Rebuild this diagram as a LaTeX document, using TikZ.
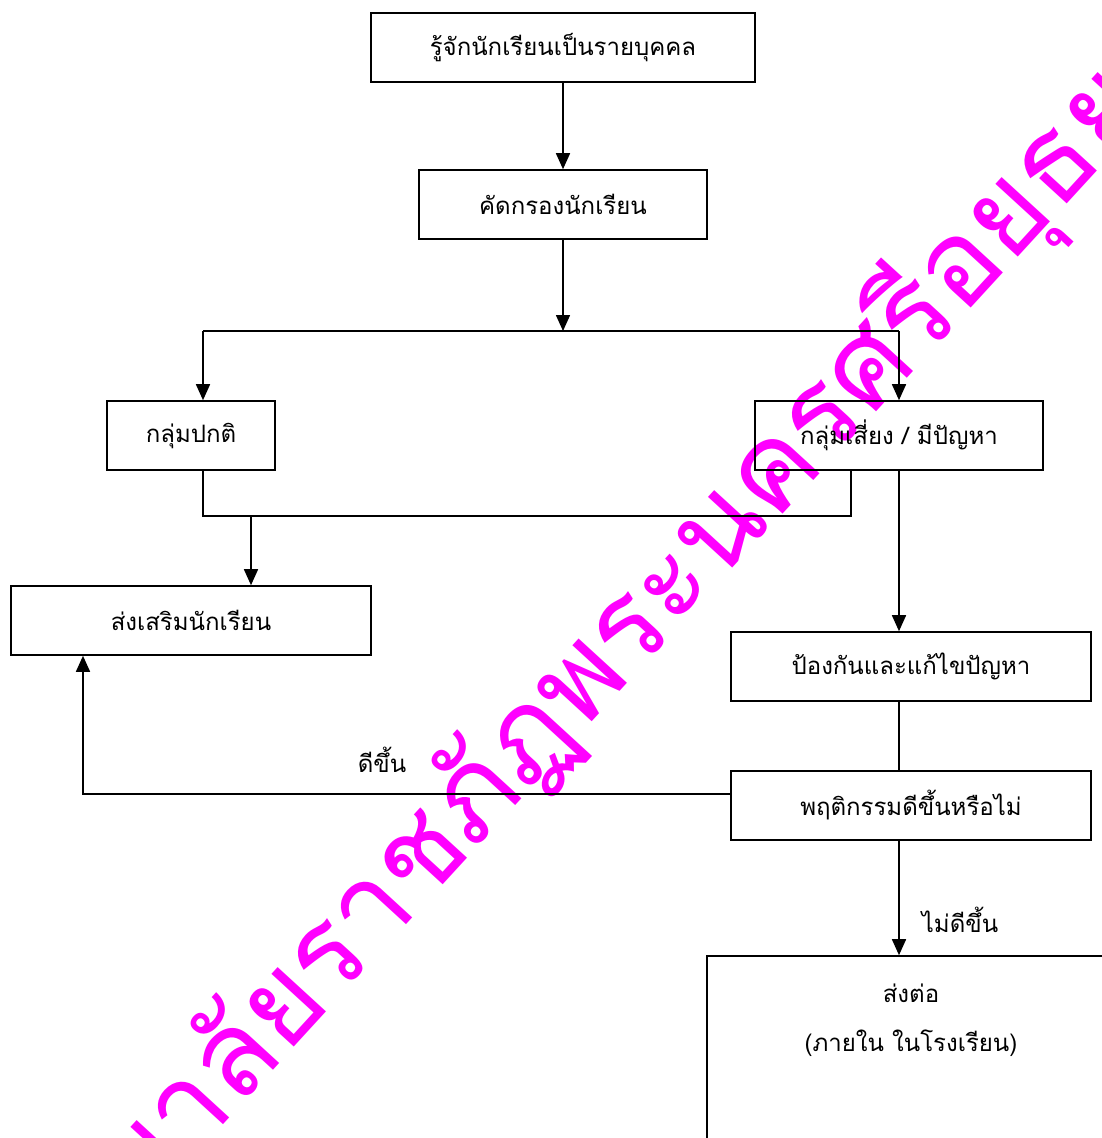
\documentclass[tikz,border=0pt]{standalone}
\usepackage{fontspec}
\newfontfamily\thaifont[Script=Thai]{Loma}
\usetikzlibrary{arrows.meta}
\definecolor{wm}{RGB}{255,0,255}
\tikzset{
  box/.style={draw, line width=1.6pt, inner sep=0pt, align=center,
    font=\thaifont\fontsize{24}{28}\selectfont},
  link/.style={line width=1.6pt},
  arr/.style={link, -{Triangle[length=16pt,width=14pt]}},
  lbl/.style={inner sep=0pt, font=\thaifont\fontsize{24}{28}\selectfont},
  wmark/.style={rotate=47.5, anchor=base, text=wm, inner sep=0pt,
    font=\thaifont\fontsize{118}{118}\selectfont}
}
\begin{document}
\begin{tikzpicture}[x=1pt,y=-1pt]
\useasboundingbox (0,0) rectangle (1102,1138);
\node[wmark] (wmk) at (548,770) {มหาวิทยาลัยราชภัฏพระนครศรีอยุธยา};

\node[box, minimum width=384pt, minimum height=69pt] (b1) at (563,47.5) {รู้จักนักเรียนเป็นรายบุคคล};
\node[box, minimum width=288pt, minimum height=69pt] (b2) at (563,204.5) {คัดกรองนักเรียน};
\node[box, minimum width=168pt, minimum height=69pt] (b3) at (191,435.5) {กลุ่มปกติ};
\node[box, minimum width=288pt, minimum height=69pt] (b4) at (899,435.5) {กลุ่มเสี่ยง / มีปัญหา};
\node[box, minimum width=360pt, minimum height=69pt] (b5) at (191,620.5) {ส่งเสริมนักเรียน};
\node[box, minimum width=360pt, minimum height=69pt] (b6) at (911,666.5) {ป้องกันและแก้ไขปัญหา};
\node[box, minimum width=360pt, minimum height=69pt] (b7) at (911,805.5) {พฤติกรรมดีขึ้นหรือไม่};
\node[box, minimum width=408pt, minimum height=250pt] (b8) at (911,1081) {};
\node[lbl] (t8a) at (911,993) {ส่งต่อ};
\node[lbl] (t8b) at (911,1043) {(ภายใน ในโรงเรียน)};

\coordinate (j1) at (563,331);
\coordinate (jL) at (203,331);
\coordinate (jR) at (899,331);
\coordinate (m1) at (203,516);
\coordinate (m2) at (851,516);
\coordinate (m3) at (251,516);
\coordinate (c1) at (83,794);

\draw[arr] (b1) -- (b2);
\draw[arr] (b2) -- (j1);
\draw[link] (jL) -- (jR);
\draw[arr] (jL) -- (jL |- b3.north);
\draw[arr] (jR) -- (jR |- b4.north);
\draw[link] (m1 |- b3.south) -- (m1) -- (m2) -- (m2 |- b4.south);
\draw[arr] (m3) -- (m3 |- b5.north);
\draw[arr] (b4.south) -- (b4.south |- b6.north);
\draw[link] (b6.south -| b4.south) -- (b7.north -| b4.south);
\draw[arr] (b7.west |- c1) -- (c1) -- (c1 |- b5.south);
\draw[arr] (b7.south -| b4.south) -- (b8.north -| b4.south);

\node[lbl] (l1) at (382,760) {ดีขึ้น};
\node[lbl] (l2) at (960,920) {ไม่ดีขึ้น};
\end{tikzpicture}
\end{document}
